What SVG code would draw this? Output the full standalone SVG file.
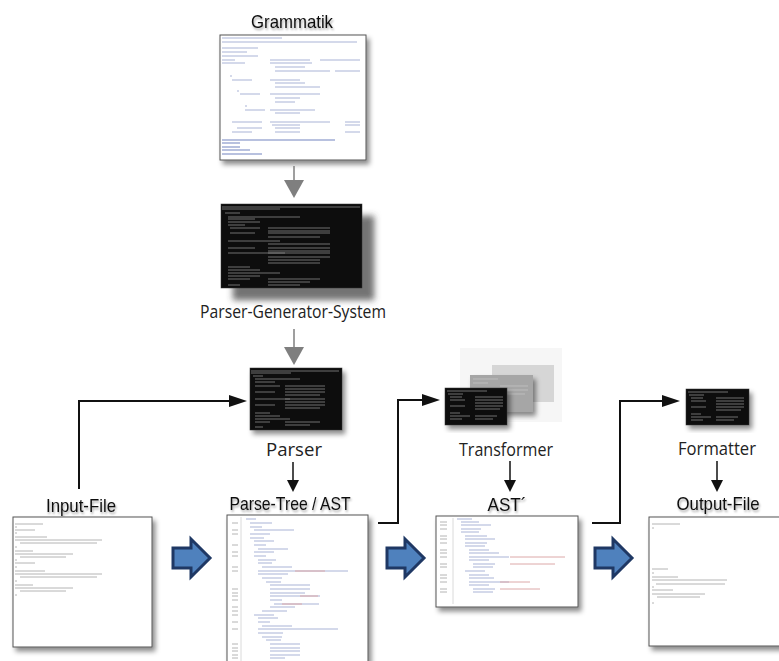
<svg xmlns="http://www.w3.org/2000/svg" width="779" height="661" viewBox="0 0 779 661">
<defs>
<filter id="sh" x="-10%" y="-10%" width="130%" height="130%"><feDropShadow dx="3" dy="4" stdDeviation="2.5" flood-color="#000" flood-opacity="0.45"/></filter>
<filter id="shBig" x="-10%" y="-10%" width="140%" height="150%"><feDropShadow dx="12" dy="12" stdDeviation="3" flood-color="#444" flood-opacity="0.75"/></filter>
<filter id="tsh" x="-10%" y="-30%" width="130%" height="170%"><feDropShadow dx="1" dy="2" stdDeviation="1.2" flood-color="#000" flood-opacity="0.35"/></filter>
<marker id="ah" markerUnits="userSpaceOnUse" markerWidth="18" markerHeight="12" refX="14" refY="6" orient="auto"><path d="M0,0 L18,6 L0,12 z" fill="#111"/></marker>
<marker id="ahs" markerUnits="userSpaceOnUse" markerWidth="12" markerHeight="12" refX="9" refY="6" orient="auto"><path d="M0,0 L12,6 L0,12 z" fill="#111"/></marker>
</defs>
<style>
.t1{font-family:"Liberation Sans",Arial,sans-serif;font-size:18.5px;fill:#111;text-anchor:middle;filter:url(#tsh)}
.t2{font-family:"Open Sans","Noto Sans",sans-serif;font-size:18.5px;fill:#222;text-anchor:middle}
.doc{fill:#fff;stroke:#555;stroke-width:1;filter:url(#sh)}
.term{fill:#111;stroke:#333;stroke-width:0.5}
.tl{fill:none;stroke:#b4b4b4;stroke-width:1}
.tb{fill:none;stroke:#a9b3d6;stroke-width:1}
.tr{fill:none;stroke:#dca8a8;stroke-width:1}
.tt{fill:none;stroke:#8c8c8c;stroke-width:0.8}
.con{fill:none;stroke:#111;stroke-width:2;marker-end:url(#ah)}
.dn{fill:none;stroke:#111;stroke-width:1.5;marker-end:url(#ahs)}
.gl{stroke:#7f7f7f;stroke-width:1.5}
.ga{fill:#7f7f7f}
.blk{fill:#4f81bd;stroke:#1f3864;stroke-width:3;stroke-linejoin:miter}
</style>
<rect width="779" height="661" fill="#fff"/>

<g id="grammatik">
<text class="t1" x="292" y="28" textLength="82" lengthAdjust="spacingAndGlyphs">Grammatik</text>
<rect class="doc" x="220" y="35" width="146" height="125"/>
<path class="tb" d="M222 38h60M222 42h135M222 48h36M222 52h25M222 56h36M222 60h13M270 60h40M320 60h40M222 63h23M270 63h42M275 67h30M275 71h55M335 71h25M230 76h2M232 80h20M270 80h30M275 83h30M275 87h45M237 91h2M240 94h20M270 94h50M275 98h25M275 102h20M245 106h2M245 110h20M270 110h45M275 113h25M232 122h30M270 122h60M345 122h15M272 125h28M345 125h15M237 128h25M275 128h25M232 132h20M275 132h25M345 132h15"/>
<path fill="none" stroke="#7284c0" stroke-width="1.1" d="M222 140h113M222 143h18M222 147h18M222 150h28M222 154h40"/>
</g>

<g id="parser-generator">
<rect class="term" x="221" y="204" width="141" height="84" filter="url(#shBig)"/>
<path class="tt" d="M222 207h138M222 209h58M225 213h15M228 217h72M228 219h27M228 222h32M228 225h17M230 228h30M268 228h62M268 231h62M230 233h25M268 233h62M268 237h52M228 241h52M268 244h62M228 248h27M268 248h62M268 251h62M228 253h57M268 253h62M268 257h62M268 260h52M268 263h52M228 267h22M228 270h32M228 273h52M228 276h32M228 279h22M268 279h52M268 282h42M228 285h12M268 285h32"/>
<text class="t2" x="293" y="318" textLength="186" lengthAdjust="spacingAndGlyphs">Parser-Generator-System</text>
</g>

<g id="parser">
<rect class="term" x="250" y="368" width="92" height="62" filter="url(#sh)"/>
<path class="tt" d="M251 371h88M251 373h40M253 376h10M255 379h45M255 382h20M255 386h25M285 386h40M285 389h40M255 392h20M285 392h40M285 395h35M255 399h35M285 399h40M285 402h40M255 405h20M285 405h40M285 408h35M255 413h15M255 416h25M255 419h35M255 422h15M285 422h35M285 425h25M255 427h8"/>
<text class="t2" x="294" y="456" textLength="56" lengthAdjust="spacingAndGlyphs">Parser</text>
</g>

<g id="transformer">
<rect x="460" y="348" width="102" height="74" fill="#f6f6f6"/>
<rect x="492" y="365" width="62" height="37" fill="#d6d6d6"/>
<rect x="470" y="375" width="63" height="37" fill="#a6a6a6" filter="url(#sh)"/>
<path fill="none" stroke="#c4c4c4" stroke-width="0.8" d="M473 379h25M473 383h15M500 386h28M500 390h28M500 394h25"/>
<rect class="term" x="445" y="388" width="62" height="37" filter="url(#sh)"/>
<path class="tt" d="M447 391h40M448 394h15M450 397h12M475 397h28M450 400h15M475 400h28M475 403h28M450 406h15M475 406h28M475 409h25M450 413h10M450 416h20M475 416h22M450 419h12M475 419h18"/>
<text class="t2" x="506" y="456" textLength="94" lengthAdjust="spacingAndGlyphs">Transformer</text>
</g>

<g id="formatter">
<rect class="term" x="686" y="389" width="63" height="36" filter="url(#sh)"/>
<path class="tt" d="M688 392h40M689 395h15M691 398h12M716 398h28M691 401h15M716 401h28M716 404h28M691 407h15M716 407h28M716 410h25M691 414h10M691 417h20M716 417h22M691 420h12M716 420h18"/>
<text class="t2" x="717" y="455" textLength="78" lengthAdjust="spacingAndGlyphs">Formatter</text>
</g>

<g id="input-file">
<text class="t1" x="81" y="512" textLength="70" lengthAdjust="spacingAndGlyphs">Input-File</text>
<rect class="doc" x="13" y="517" width="139" height="130"/>
<path class="tl" d="M15 524h28M15 527h2M15 530h20M15 533h2M15 537h32M15 540h87M20 543h77M15 547h2M15 551h18M15 554h58M20 557h46M15 560h2M15 563h20M15 567h2M15 571h30M15 574h87M20 577h77M15 581h2M15 585h18M15 588h58M20 591h46M15 595h2"/>
</g>

<g id="parse-tree">
<text class="t1" x="290" y="510" textLength="121" lengthAdjust="spacingAndGlyphs">Parse-Tree / AST</text>
<rect class="doc" x="227" y="515" width="141" height="160"/>
<path fill="none" stroke="#d0d0d0" stroke-width="0.8" d="M241 517V661"/>
<path class="tl" d="M232 523h6M232 530h6M232 534h6M232 545h6M232 552h6M232 556h6M232 567h6M232 571h6M232 589h6M232 593h6M232 596h6M232 600h6M232 607h6M232 611h6M232 615h6M232 622h6M232 629h6M232 644h6M232 648h6M232 651h6M232 655h6M232 658h6"/>
<path class="tb" d="M246 519h10M250 523h22M250 527h12M254 530h40M250 534h20M250 538h14M254 541h20M254 545h12M258 549h30M254 552h20M254 556h12M258 560h18M258 563h14M262 567h30M258 571h90M258 574h30M262 578h20M266 582h15M270 585h40M270 589h40M270 593h35M270 596h50M270 600h12M274 604h45M270 607h25M262 611h25M254 615h20M258 618h20M258 622h12M262 626h30M258 629h80M258 633h25M262 637h20M266 640h15M270 644h30M270 648h30M270 651h30M270 655h30M270 658h15"/>
<path class="tr" d="M295 571h30M300 596h18M282 604h20"/>
</g>

<g id="ast2">
<text class="t1" x="507" y="511" textLength="39" lengthAdjust="spacingAndGlyphs">AST´</text>
<rect class="doc" x="436" y="516" width="142" height="91"/>
<path fill="none" stroke="#d0d0d0" stroke-width="0.8" d="M453 518V604"/>
<path class="tl" d="M440 522h7M440 525h7M440 529h7M440 536h7M440 539h7M440 543h7M440 550h7M440 553h7M440 557h7M440 564h7M440 567h7M440 575h7M440 578h7M440 582h7M440 589h7M440 592h7"/>
<path class="tb" d="M457 519h15M461 522h18M461 525h30M461 529h20M461 532h18M465 536h22M465 539h30M465 543h22M465 546h20M469 550h20M469 553h30M469 557h40M469 560h20M473 564h22M473 567h20M465 571h20M469 575h20M469 578h25M469 582h40M469 585h20M473 589h22M473 592h20"/>
<path class="tr" d="M510 557h55M510 564h45M500 582h30M500 589h40"/>
</g>

<g id="output-file">
<text class="t1" x="718" y="510" textLength="83" lengthAdjust="spacingAndGlyphs">Output-File</text>
<rect class="doc" x="649" y="517" width="136" height="129"/>
<path class="tl" d="M652 524h28M652 528h2M652 569h16M652 573h2M652 577h26M652 580h75M656 584h69M652 587h2M652 590h21M652 594h53M657 597h43M652 603h2"/>
</g>

<g id="connectors">
<line class="gl" x1="294" y1="166" x2="294" y2="181"/>
<polygon class="ga" points="284,180 304,180 294,198"/>
<line class="gl" x1="294" y1="329" x2="294" y2="348"/>
<polygon class="ga" points="284,347 304,347 294,365"/>
<path class="con" d="M79 489V401H243"/>
<path class="con" d="M378 523H398V400H436"/>
<path class="con" d="M592 523H620V401H676"/>
<path class="dn" d="M293 462V489"/>
<path class="dn" d="M510 461V489"/>
<path class="dn" d="M717 461V489"/>
<polygon class="blk" points="173,548 191,548 191,539 210,558 191,577 191,568 173,568"/>
<polygon class="blk" points="387,548 405,548 405,539 424,558 405,577 405,568 387,568"/>
<polygon class="blk" points="595,548 613,548 613,539 632,558 613,577 613,568 595,568"/>
</g>
</svg>
